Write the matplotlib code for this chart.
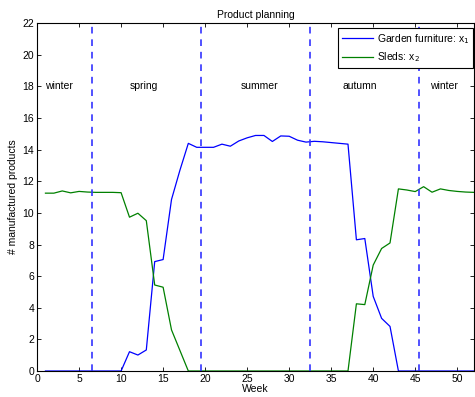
import matplotlib
matplotlib.use("Agg")
import matplotlib.pyplot as plt
import numpy as np

plt.rcParams['font.family'] = ['Liberation Sans', 'DejaVu Sans']

weeks = list(range(1, 53))
garden = [0, 0, 0, 0, 0, 0, 0, 0, 0, 0,
          1.22, 1.01, 1.33, 6.92, 7.05, 10.85, 12.7, 14.4, 14.15, 14.15,
          14.15, 14.35, 14.22, 14.55, 14.75, 14.9, 14.9, 14.52, 14.87, 14.85,
          14.6, 14.48, 14.53, 14.5, 14.45, 14.4, 14.35, 8.3, 8.38, 4.72,
          3.33, 2.82, 0, 0, 0, 0, 0, 0, 0, 0,
          0, 0]
sleds = [11.25, 11.25, 11.39, 11.27, 11.36, 11.32, 11.3, 11.3, 11.3, 11.28,
         9.73, 9.98, 9.51, 5.44, 5.3, 2.6, 1.3, 0, 0, 0,
         0, 0, 0, 0, 0, 0, 0, 0, 0, 0,
         0, 0, 0, 0, 0, 0, 0, 4.25, 4.2, 6.7,
         7.75, 8.1, 11.52, 11.45, 11.35, 11.66, 11.31, 11.52, 11.42, 11.36,
         11.32, 11.3]
season_bounds = [6.5, 19.5, 32.5, 45.5]
season_names = ["winter", "spring", "summer", "autumn", "winter"]
season_x = [1.0, 11.0, 24.2, 36.3, 46.8]
season_y = 18

fig = plt.figure(figsize=(4.75, 3.97), dpi=100)
ax = fig.add_axes([0.078, 0.0655, 0.92, 0.876])

ax.plot(weeks, garden, color=(0, 0, 1), lw=0.9, label="Garden furniture: x$_1$")
ax.plot(weeks, sleds, color=(0, 0.5, 0), lw=0.9, label="Sleds: x$_2$")
for b in season_bounds:
    ax.axvline(b, color=(0.2, 0.2, 1), lw=1.2, ls=(0, (4, 3.5)))
for name, xs in zip(season_names, season_x):
    ax.text(xs, season_y, name, fontsize=7.5, va='center', ha='left')

ax.set_xlim(0, 52)
ax.set_ylim(0, 22)
ax.set_xticks(range(0, 55, 5))
ax.set_yticks(range(0, 23, 2))
ax.tick_params(direction='in', top=True, right=True, labelsize=7.5, length=3, width=0.6, pad=2)
for s in ax.spines.values():
    s.set_linewidth(0.8)
ax.set_xlabel("Week", fontsize=7.5, labelpad=0)
ax.set_ylabel("# manufactured products", fontsize=7.5, labelpad=3)
ax.set_title("Product planning", fontsize=7.5, pad=4)
leg = ax.legend(loc='upper right', bbox_to_anchor=(0.997, 0.985), fontsize=7.5,
                fancybox=False, framealpha=1, edgecolor='black', borderaxespad=0,
                handlelength=3.0, handletextpad=0.35, borderpad=0.35,
                labelspacing=0.45)
leg.get_frame().set_linewidth(0.8)

fig.savefig("out.png", dpi=100)
